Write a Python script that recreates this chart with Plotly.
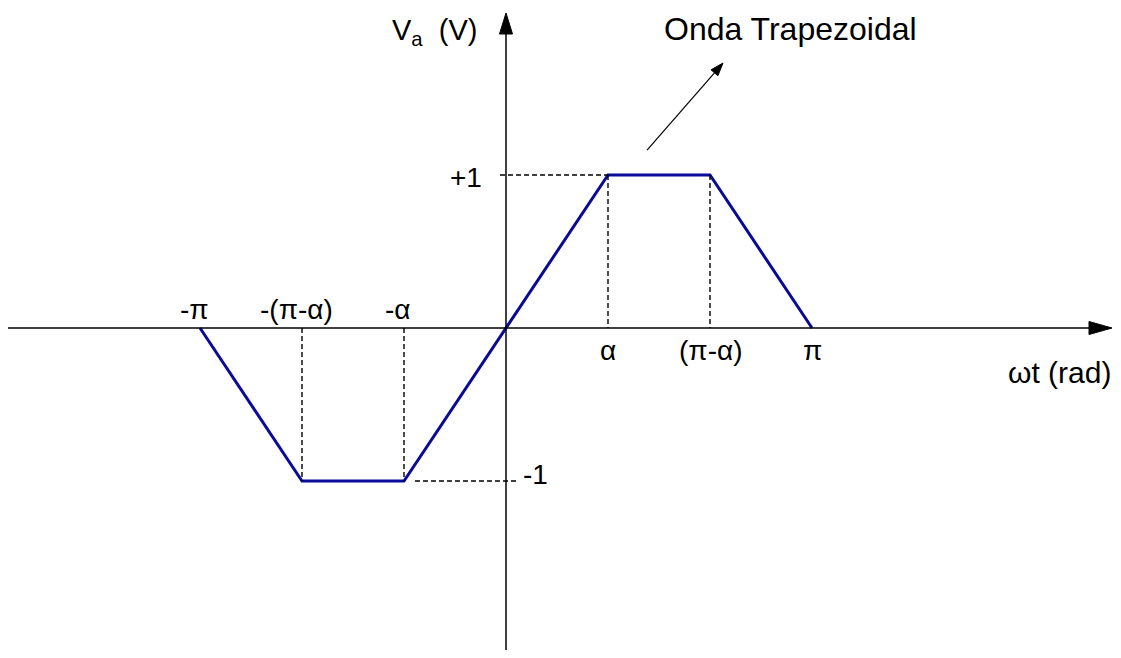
"""Trapezoidal wave sketch with hand-drawn style axes."""
import numpy as np
import plotly.graph_objects as go

# Data
PI = np.pi
ALPHA = PI / 3
wt_points = [-PI, -(PI - ALPHA), -ALPHA, 0, ALPHA, PI - ALPHA, PI]
va_points = [0, -1, -1, 0, 1, 1, 0]
tick_values = [-PI, -(PI - ALPHA), -ALPHA, ALPHA, PI - ALPHA, PI]
tick_labels = ['-π', '-(π-α)', '-α', 'α', '(π-α)', 'π']
level_values = [1, -1]
level_labels = ['+1', '-1']

# Figure geometry (the page body adds an 8px margin)
W, H = 1105, 642
X0_PX, Y0_PX = 498, 320
PX_PER_RAD = 306 / PI
PX_PER_V = 153.0


def dx(px):
    return px / PX_PER_RAD


def dy(px):
    return px / PX_PER_V


x_range = [-dx(X0_PX), dx(W - X0_PX)]
y_range = [-dy(H - Y0_PX), dy(Y0_PX)]

FONT = 'Arial, Liberation Sans, sans-serif'
BLUE = '#0a0a98'


def arrow_shapes(x0, y0, x1, y1, head_len, head_half, width):
    """Line plus filled triangle head, drawn in data coords, sized in pixels."""
    px = (x1 - x0) * PX_PER_RAD
    py = (y1 - y0) * PX_PER_V
    n = np.hypot(px, py)
    ux, uy = px / n, py / n
    bx, by = x1 - dx(head_len * ux), y1 - dy(head_len * uy)
    lx, ly = bx - dx(head_half * uy), by + dy(head_half * ux)
    rx, ry = bx + dx(head_half * uy), by - dy(head_half * ux)
    return [
        dict(type='line', xref='x', yref='y', x0=x0, y0=y0, x1=bx, y1=by,
             line=dict(color='black', width=width)),
        dict(type='path', xref='x', yref='y', fillcolor='black',
             line=dict(color='black', width=1),
             path=f'M {x1},{y1} L {lx},{ly} L {rx},{ry} Z'),
    ]


fig = go.Figure()

fig.add_trace(go.Scatter(
    x=wt_points,
    y=va_points,
    mode='lines',
    line=dict(color=BLUE, width=3),
    hoverinfo='skip',
    showlegend=False
))

shapes = []

# Axes with arrowheads
shapes += arrow_shapes(x_range[0], 0, x_range[1] - dx(1), 0, 23, 6.5, 1.5)
shapes += arrow_shapes(0, y_range[0], 0, y_range[1] - dy(5), 21, 6.5, 1.5)

# Pointer arrow towards the wave name
shapes += arrow_shapes(1.448, 1.163, 2.228, 1.732, 13, 4.5, 1.2)

# Dashed guide lines
dash = dict(color='black', width=1.4, dash='5px,3px')
top_lo, top_hi = wt_points[4], wt_points[5]
bot_lo, bot_hi = wt_points[1], wt_points[2]
shapes.append(dict(type='line', xref='x', yref='y', x0=-dx(6), y0=1, x1=top_lo, y1=1, line=dash))
shapes.append(dict(type='line', xref='x', yref='y', x0=top_lo, y0=1, x1=top_lo, y1=0, line=dash))
shapes.append(dict(type='line', xref='x', yref='y', x0=top_hi, y0=1, x1=top_hi, y1=0, line=dash))
shapes.append(dict(type='line', xref='x', yref='y', x0=bot_lo, y0=0, x1=bot_lo, y1=-1, line=dash))
shapes.append(dict(type='line', xref='x', yref='y', x0=bot_hi, y0=0, x1=bot_hi, y1=-1, line=dash))
shapes.append(dict(type='line', xref='x', yref='y', x0=bot_hi + dx(11), y0=-1, x1=dx(11), y1=-1, line=dash))

annotations = []

# Tick labels along the wt axis
for val, lab in zip(tick_values, tick_labels):
    annotations.append(dict(
        x=val, y=0, xref='x', yref='y', text=lab, showarrow=False,
        xanchor='center', yanchor='middle',
        xshift=-6 if val < 0 else 0,
        yshift=19 if val < 0 else -22,
        font=dict(family=FONT, size=28, color='black')
    ))

# Level labels on the Va axis
for val, lab in zip(level_values, level_labels):
    annotations.append(dict(
        x=0, y=val, xref='x', yref='y', text=lab, showarrow=False,
        xanchor='right' if val > 0 else 'left', yanchor='middle',
        xshift=-22 if val > 0 else 15,
        yshift=-2 if val > 0 else 7,
        font=dict(family=FONT, size=28, color='black')
    ))

# Axis titles
annotations.append(dict(
    x=0, y=y_range[1], xref='x', yref='y', text='V<sub>a</sub>  (V)', showarrow=False,
    xanchor='right', yanchor='top', xshift=-27, yshift=-4,
    font=dict(family=FONT, size=29, color='black')
))
annotations.append(dict(
    x=x_range[1], y=0, xref='x', yref='y', text='ωt (rad)', showarrow=False,
    xanchor='right', yanchor='middle', yshift=-44,
    font=dict(family=FONT, size=30, color='black')
))

# Wave name
annotations.append(dict(
    x=2.92, y=1.955, xref='x', yref='y', text='Onda Trapezoidal', showarrow=False,
    xanchor='center', yanchor='middle',
    font=dict(family=FONT, size=32, color='black')
))

fig.update_layout(
    width=W,
    height=H,
    margin=dict(l=0, r=0, t=0, b=0),
    plot_bgcolor='white',
    paper_bgcolor='white',
    xaxis=dict(range=x_range, visible=False, fixedrange=True),
    yaxis=dict(range=y_range, visible=False, fixedrange=True),
    shapes=shapes,
    annotations=annotations,
    showlegend=False
)

fig.write_html("out.html", config={'displayModeBar': False})
